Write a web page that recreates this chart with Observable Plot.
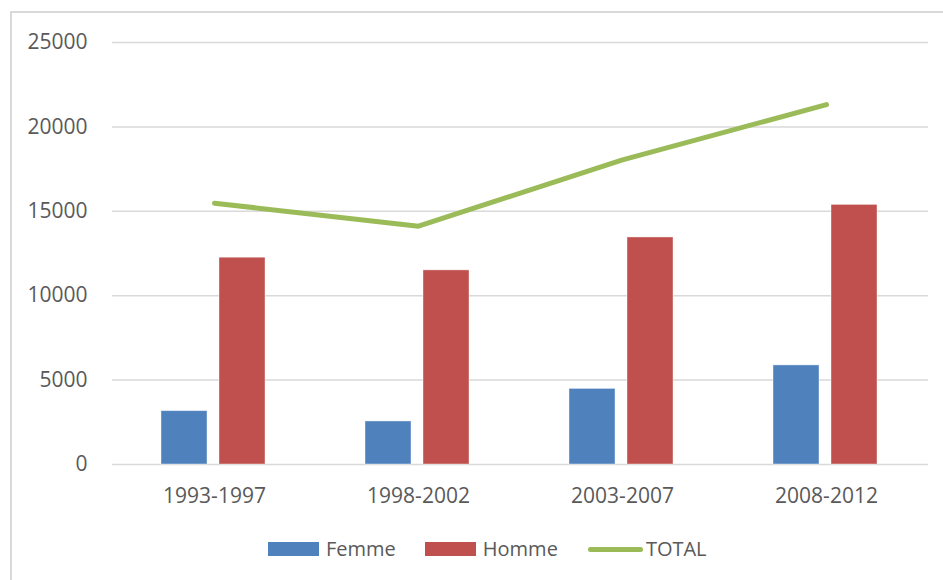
<!DOCTYPE html>
<html>
<head>
<meta charset="utf-8">
<script src="https://cdn.jsdelivr.net/npm/d3@7"></script>
<script src="https://cdn.jsdelivr.net/npm/@observablehq/plot@0.6"></script>
<style>
  html, body { margin: 0; padding: 0; background: #fff; }
  #wrap { position: relative; width: 943px; height: 580px; overflow: hidden; background: #fff; font-family: "Open Sans", sans-serif; }
  #frame { position: absolute; left: 10px; top: 11px; width: 1000px; height: 1000px; border: 2px solid #d9d9d9; box-sizing: border-box; }
  #chart { position: absolute; left: 0; top: 0; }
  #legend { position: absolute; left: 268px; top: 536px; display: flex; align-items: center; font-size: 20px; color: #595959; line-height: 26px; }
  .item { display: flex; align-items: center; }
  .sw { width: 51px; height: 14px; margin-right: 7px; }
  .ln { width: 55px; height: 5px; border-radius: 3px; margin-right: 3px; }
</style>
</head>
<body>
<div id="wrap">
  <div id="frame"></div>
  <div id="chart"></div>
  <div id="legend"></div>
</div>
<script>
const categories = ["1993-1997", "1998-2002", "2003-2007", "2008-2012"];
const femme = [3160, 2550, 4480, 5870];
const homme = [12250, 11500, 13450, 15380];
const total = [15480, 14120, 18050, 21320];
const yTicks = [0, 5000, 10000, 15000, 20000, 25000];
const seriesNames = ["Femme", "Homme", "TOTAL"];
const colors = ["#4f81bd", "#c0504d", "#9bbb59"];

const femmeData = categories.map((c, i) => ({cat: c, v: femme[i]}));
const hommeData = categories.map((c, i) => ({cat: c, v: homme[i]}));
const totalData = categories.map((c, i) => ({cat: c, v: total[i]}));

const chart = Plot.plot({
  width: 943,
  height: 520,
  marginLeft: 112,
  marginRight: 15,
  marginTop: 42,
  marginBottom: 56,
  style: { fontFamily: "'Open Sans', sans-serif", fontSize: "21px", color: "#595959", background: "transparent" },
  x: { type: "band", domain: categories, padding: 0, label: null },
  y: { domain: [0, 25000], label: null },
  marks: [
    Plot.ruleY(yTicks, { stroke: "#d9d9d9", strokeWidth: 1.5 }),
    Plot.barY(femmeData, { x: "cat", y: "v", fill: colors[0], insetLeft: 49, insetRight: 109, stroke: "#ffffff", strokeOpacity: 0.5, strokeWidth: 0.8 }),
    Plot.barY(hommeData, { x: "cat", y: "v", fill: colors[1], insetLeft: 107, insetRight: 51, stroke: "#ffffff", strokeOpacity: 0.5, strokeWidth: 0.8 }),
    Plot.lineY(totalData, { x: "cat", y: "v", stroke: colors[2], strokeWidth: 5, strokeLinecap: "round", strokeLinejoin: "round" }),
    Plot.axisY({ ticks: yTicks, tickSize: 0, tickPadding: 25, tickFormat: d => String(d), fill: "#595959", fontSize: 21, label: null }),
    Plot.axisX({ tickSize: 0, tickPadding: 24, fill: "#595959", fontSize: 21, label: null })
  ]
});
document.getElementById("chart").appendChild(chart);

const legend = document.getElementById("legend");
const gaps = [29, 30, 0];
seriesNames.forEach((name, i) => {
  const item = document.createElement("div");
  item.className = "item";
  item.style.marginRight = gaps[i] + "px";
  const sw = document.createElement("div");
  sw.className = i === 2 ? "ln" : "sw";
  sw.style.background = colors[i];
  const t = document.createElement("span");
  t.textContent = name;
  item.appendChild(sw);
  item.appendChild(t);
  legend.appendChild(item);
});
</script>
</body>
</html>
